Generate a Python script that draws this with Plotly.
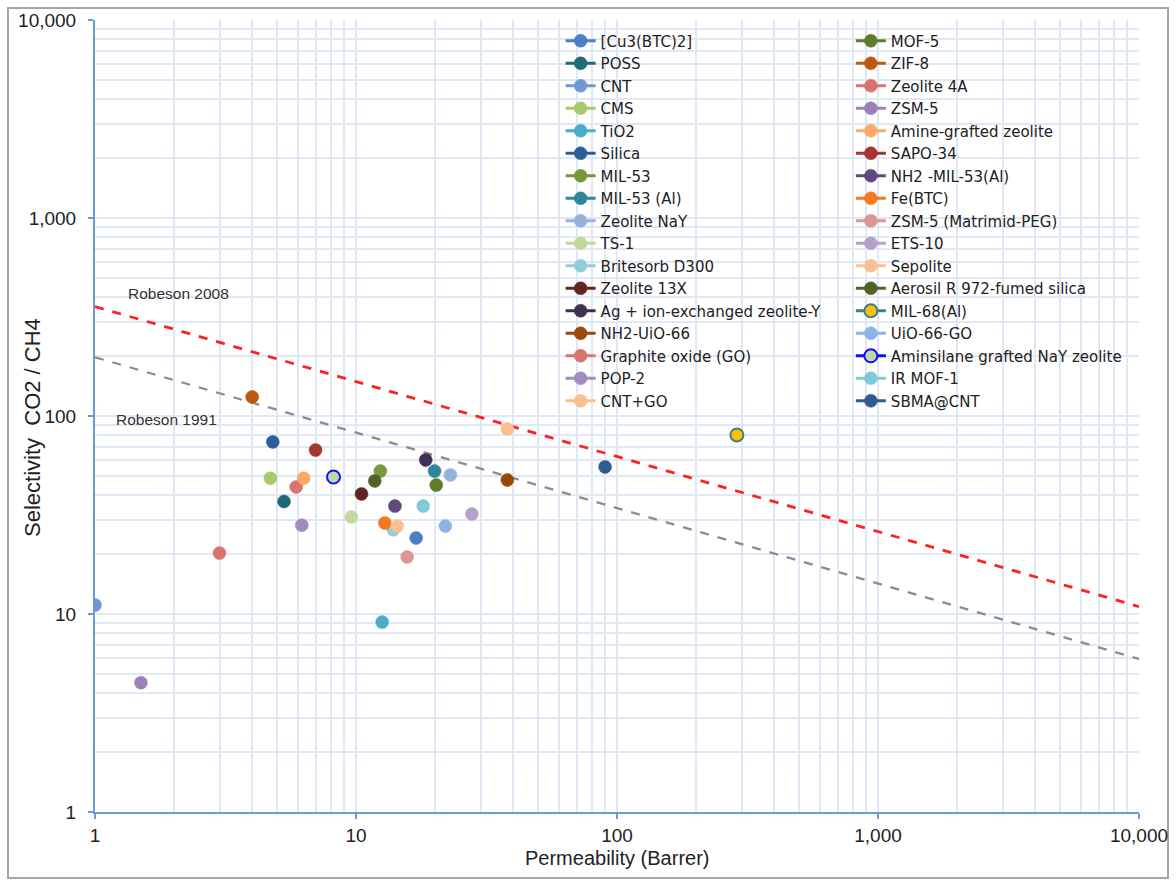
import plotly.graph_objects as go

# Materials in the left legend column: name, permeability (Barrer), CO2/CH4 selectivity, colour
left_names = ["[Cu3(BTC)2]", "POSS", "CNT", "CMS", "TiO2", "Silica", "MIL-53", "MIL-53 (Al)",
              "Zeolite NaY", "TS-1", "Britesorb D300", "Zeolite 13X",
              "Ag + ion-exchanged zeolite-Y", "NH2-UiO-66", "Graphite oxide (GO)", "POP-2", "CNT+GO"]
left_perm = [17.0, 5.3, 1.0, 4.7, 12.6, 4.8, 12.4, 20.0, 23.0, 9.6, 13.9, 10.5, 18.5, 38.0, 5.9, 6.2, 38.0]
left_sel = [24.2, 37.0, 11.1, 48.5, 9.1, 74.0, 52.7, 52.7, 50.4, 30.9, 26.6, 40.4, 60.0, 47.5, 43.8, 28.1, 86.0]
left_colors = ["#4a7fc1", "#1f6b75", "#6f9ad0", "#a9c96b", "#4bacc6", "#2c5f99", "#77993a", "#31859c",
               "#95b3d7", "#c3d69b", "#93cddd", "#632523", "#3f3151", "#984807", "#d9736f", "#a08cc0",
               "#fabf8f"]

# Materials in the right legend column
right_names = ["MOF-5", "ZIF-8", "Zeolite 4A", "ZSM-5", "Amine-grafted zeolite", "SAPO-34",
               "NH2 -MIL-53(Al)", "Fe(BTC)", "ZSM-5 (Matrimid-PEG)", "ETS-10", "Sepolite",
               "Aerosil R 972-fumed silica", "MIL-68(Al)", "UiO-66-GO",
               "Aminsilane grafted NaY zeolite", "IR MOF-1", "SBMA@CNT"]
right_perm = [20.3, 4.0, 3.0, 1.5, 6.3, 7.0, 14.1, 12.9, 15.7, 27.8, 14.4, 11.8, 288.0, 22.0, 8.2, 18.1, 90.0]
right_sel = [44.8, 124.7, 20.3, 4.5, 48.5, 67.3, 35.1, 28.8, 19.4, 32.0, 27.8, 47.0, 80.2, 27.8, 49.2, 35.1, 55.3]
right_colors = ["#5e7d2b", "#c0580f", "#d9736f", "#9c80b8", "#f9a968", "#a5352f", "#604a7b", "#f47920",
                "#d99694", "#b3a2c7", "#fac090", "#4f6228", "#ffc000", "#8db3e2", "#c3d69b", "#7fc9d9",
                "#2f5b8f"]
# Series drawn with a contrasting outline: name -> outline / legend line colour
outlined = {"MIL-68(Al)": "#3f7f86", "Aminsilane grafted NaY zeolite": "#1010ff"}

# Robeson upper bounds (CO2/CH4)
robeson_perm = [1, 10000]
robeson_2008_sel = [357, 10.9]
robeson_1991_sel = [198, 5.93]

fig = go.Figure()

fig.add_trace(go.Scatter(x=robeson_perm, y=robeson_2008_sel, mode="lines",
                         line=dict(color="#ff2020", width=2.8, dash="dash"),
                         showlegend=False, hoverinfo="skip"))
fig.add_trace(go.Scatter(x=robeson_perm, y=robeson_1991_sel, mode="lines",
                         line=dict(color="#8c8c8c", width=2.3, dash="dash"),
                         showlegend=False, hoverinfo="skip"))


def add_series(names, perm, sel, colors, legend):
    for n, p, s, c in zip(names, perm, sel, colors):
        edge = outlined.get(n, c)
        fig.add_trace(go.Scatter(
            x=[p], y=[s], name=n, mode="lines+markers", legend=legend,
            line=dict(color=edge, width=3),
            marker=dict(size=13, color=c,
                        line=dict(color=edge, width=2 if n in outlined else 0.5)),
        ))


add_series(left_names, left_perm, left_sel, left_colors, "legend")
add_series(right_names, right_perm, right_sel, right_colors, "legend2")

grid = "#dfe8f4"
axis_blue = "#6a9bd8"
tick_font = dict(family="Liberation Sans, Arial", size=19, color="#222222")
title_font = dict(family="Liberation Sans, Arial", size=20, color="#222222")

common_axis = dict(
    type="log", dtick=1, tickformat=",d", automargin=False,
    showline=True, linecolor=axis_blue, linewidth=2,
    showgrid=True, gridcolor=grid, gridwidth=2,
    ticks="outside", ticklen=5, tickcolor=axis_blue, tickwidth=1.5,
    minor=dict(dtick="D1", showgrid=True, gridcolor=grid, gridwidth=2, ticks=""),
    tickfont=tick_font, zeroline=False,
)

fig.update_xaxes(range=[0, 4], ticklabelstandoff=0, **common_axis)
fig.update_yaxes(range=[0, 4], ticklabelstandoff=8, **common_axis)

legend_style = dict(font=dict(family="DejaVu Sans", size=15, color="#222222"),
                    bgcolor="rgba(0,0,0,0)", borderwidth=0, orientation="v",
                    xanchor="left", yanchor="top", itemclick=False, tracegroupgap=0)

fig.update_layout(
    width=1176, height=883,
    margin=dict(l=95, r=37, t=20, b=71),
    paper_bgcolor="white", plot_bgcolor="white",
    legend=dict(x=0.446, y=0.9943, **legend_style),
    legend2=dict(x=0.724, y=0.9943, **legend_style),
    annotations=[
        dict(x=0.120, y=2.621, xref="x", yref="y", text="Robeson 2008", showarrow=False,
             xanchor="left", yanchor="middle",
             font=dict(family="Liberation Sans, Arial", size=15.5, color="#333333")),
        dict(x=0.071, y=1.980, xref="x", yref="y", text="Robeson 1991", showarrow=False,
             xanchor="left", yanchor="middle",
             font=dict(family="Liberation Sans, Arial", size=15.5, color="#333333")),
        dict(x=(32 - 95) / 1044, y=(812 - 428) / 792, xref="paper", yref="paper",
             text="Selectivity  CO2 / CH4", textangle=-90, showarrow=False,
             xanchor="center", yanchor="middle",
             font=dict(family="Liberation Sans, Arial", size=22, color="#222222")),
        dict(x=0.5, y=(812 - 858) / 792, xref="paper", yref="paper",
             text="Permeability (Barrer)", showarrow=False,
             xanchor="center", yanchor="middle", font=title_font),
    ],
    shapes=[
        dict(type="rect", xref="paper", yref="paper",
             x0=(8 - 95) / 1044, x1=(1168 - 95) / 1044,
             y0=(812 - 878) / 792, y1=(812 - 8) / 792,
             line=dict(color="#a6a6a6", width=2), layer="below"),
    ],
)

fig.write_html("out.html")
